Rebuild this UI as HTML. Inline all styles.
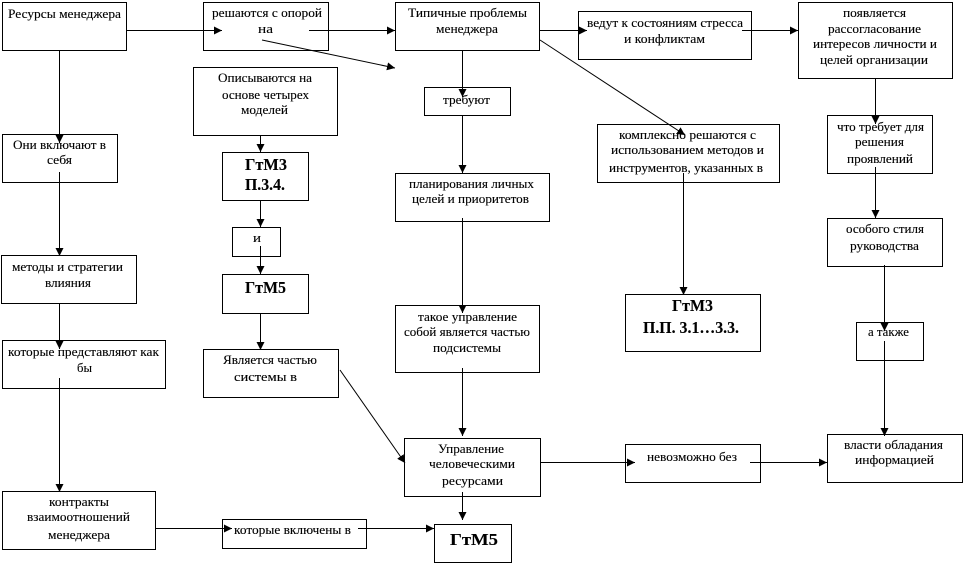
<!DOCTYPE html>
<html lang="ru"><head><meta charset="utf-8"><title>Diagram</title>
<style>
html,body{margin:0;padding:0;background:#fff;width:964px;height:564px;overflow:hidden}
svg{display:block}
text{font-family:"Liberation Serif","Noto Serif CJK SC",serif;font-size:13px;fill:#000;stroke:#000;stroke-width:.12}
text.b{font-weight:bold;font-size:17px}
rect{fill:#fff;stroke:#000;stroke-width:1}
line{stroke:#000;stroke-width:1;shape-rendering:crispEdges}
line.d{shape-rendering:auto}
polygon{fill:#000}
</style></head><body>
<svg width="964" height="564" viewBox="0 0 964 564" xmlns="http://www.w3.org/2000/svg">
<defs><marker id="a" markerUnits="userSpaceOnUse" markerWidth="9" markerHeight="8" refX="8" refY="4" orient="auto"><polygon points="0,0 8,4 0,8"/></marker></defs>
<g shape-rendering="crispEdges">
<rect x="2.5" y="2.5" width="124" height="48"/>
<rect x="203.5" y="2.5" width="125" height="48"/>
<rect x="395.5" y="2.5" width="144" height="48"/>
<rect x="578.5" y="11.5" width="173" height="48"/>
<rect x="798.5" y="2.5" width="154" height="76"/>
<rect x="827.5" y="115.5" width="105" height="58"/>
<rect x="827.5" y="218.5" width="115" height="48"/>
<rect x="856.5" y="322.5" width="67" height="38"/>
<rect x="827.5" y="434.5" width="135" height="48"/>
<rect x="193.5" y="67.5" width="144" height="68"/>
<rect x="222.5" y="152.5" width="86" height="48"/>
<rect x="232.5" y="227.5" width="48" height="29"/>
<rect x="222.5" y="274.5" width="86" height="39"/>
<rect x="203.5" y="349.5" width="135" height="48"/>
<rect x="2.5" y="134.5" width="115" height="48"/>
<rect x="1.5" y="255.5" width="135" height="48"/>
<rect x="2.5" y="340.5" width="163" height="48"/>
<rect x="2.5" y="491.5" width="153" height="58"/>
<rect x="222.5" y="519.5" width="144" height="29"/>
<rect x="434.5" y="524.5" width="77" height="38"/>
<rect x="404.5" y="438.5" width="136" height="58"/>
<rect x="395.5" y="305.5" width="144" height="67"/>
<rect x="395.5" y="173.5" width="154" height="48"/>
<rect x="424.5" y="87.5" width="86" height="28"/>
<rect x="597.5" y="124.5" width="182" height="58"/>
<rect x="625.5" y="294.5" width="135" height="57"/>
<rect x="625.5" y="444.5" width="135" height="38"/>
</g>
<text x="8" y="18" textLength="113" lengthAdjust="spacingAndGlyphs">Ресурсы менеджера</text>
<text x="212" y="17" textLength="110" lengthAdjust="spacingAndGlyphs">решаются с опорой</text>
<text x="258" y="33" textLength="15" lengthAdjust="spacingAndGlyphs">на</text>
<text x="408" y="17" textLength="119" lengthAdjust="spacingAndGlyphs">Типичные проблемы</text>
<text x="436" y="33" textLength="62" lengthAdjust="spacingAndGlyphs">менеджера</text>
<text x="587" y="27" textLength="156" lengthAdjust="spacingAndGlyphs">ведут к состояниям стресса</text>
<text x="624" y="43" textLength="81" lengthAdjust="spacingAndGlyphs">и конфликтам</text>
<text x="843" y="17" textLength="63" lengthAdjust="spacingAndGlyphs">появляется</text>
<text x="828" y="33" textLength="93" lengthAdjust="spacingAndGlyphs">рассогласование</text>
<text x="813" y="48" textLength="124" lengthAdjust="spacingAndGlyphs">интересов личности и</text>
<text x="820" y="64" textLength="108" lengthAdjust="spacingAndGlyphs">целей организации</text>
<text x="837" y="131" textLength="87" lengthAdjust="spacingAndGlyphs">что требует для</text>
<text x="855" y="146" textLength="49" lengthAdjust="spacingAndGlyphs">решения</text>
<text x="847" y="163" textLength="66" lengthAdjust="spacingAndGlyphs">проявлений</text>
<text x="846" y="233" textLength="78" lengthAdjust="spacingAndGlyphs">особого стиля</text>
<text x="850" y="250" textLength="69" lengthAdjust="spacingAndGlyphs">руководства</text>
<text x="868" y="336" textLength="41" lengthAdjust="spacingAndGlyphs">а также</text>
<text x="844" y="449" textLength="99" lengthAdjust="spacingAndGlyphs">власти обладания</text>
<text x="855" y="464" textLength="79" lengthAdjust="spacingAndGlyphs">информацией</text>
<text x="218" y="82" textLength="94" lengthAdjust="spacingAndGlyphs">Описываются на</text>
<text x="222" y="99" textLength="87" lengthAdjust="spacingAndGlyphs">основе четырех</text>
<text x="241" y="114" textLength="47" lengthAdjust="spacingAndGlyphs">моделей</text>
<text class="b" x="245" y="170" textLength="42" lengthAdjust="spacingAndGlyphs">ГтМ3</text>
<text class="b" x="245" y="190" textLength="40" lengthAdjust="spacingAndGlyphs">П.3.4.</text>
<text x="253" y="242" textLength="8" lengthAdjust="spacingAndGlyphs">и</text>
<text class="b" x="245" y="293" textLength="41" lengthAdjust="spacingAndGlyphs">ГтМ5</text>
<text x="223" y="364" textLength="94" lengthAdjust="spacingAndGlyphs">Является частью</text>
<text x="234" y="381" textLength="63" lengthAdjust="spacingAndGlyphs">системы в</text>
<text x="13" y="149" textLength="93" lengthAdjust="spacingAndGlyphs">Они включают в</text>
<text x="47" y="164" textLength="25" lengthAdjust="spacingAndGlyphs">себя</text>
<text x="12" y="271" textLength="111" lengthAdjust="spacingAndGlyphs">методы и стратегии</text>
<text x="45" y="287" textLength="46" lengthAdjust="spacingAndGlyphs">влияния</text>
<text x="8" y="356" textLength="151" lengthAdjust="spacingAndGlyphs">которые представляют как</text>
<text x="77" y="372" textLength="15" lengthAdjust="spacingAndGlyphs">бы</text>
<text x="49" y="506" textLength="60" lengthAdjust="spacingAndGlyphs">контракты</text>
<text x="27" y="521" textLength="103" lengthAdjust="spacingAndGlyphs">взаимоотношений</text>
<text x="48" y="539" textLength="62" lengthAdjust="spacingAndGlyphs">менеджера</text>
<text x="234" y="534" textLength="117" lengthAdjust="spacingAndGlyphs">которые включены в</text>
<text class="b" x="450" y="545" textLength="48" lengthAdjust="spacingAndGlyphs">ГтМ5</text>
<text x="438" y="453" textLength="66" lengthAdjust="spacingAndGlyphs">Управление</text>
<text x="429" y="468" textLength="86" lengthAdjust="spacingAndGlyphs">человеческими</text>
<text x="442" y="485" textLength="61" lengthAdjust="spacingAndGlyphs">ресурсами</text>
<text x="418" y="321" textLength="99" lengthAdjust="spacingAndGlyphs">такое управление</text>
<text x="404" y="336" textLength="126" lengthAdjust="spacingAndGlyphs">собой является частью</text>
<text x="433" y="352" textLength="68" lengthAdjust="spacingAndGlyphs">подсистемы</text>
<text x="409" y="188" textLength="125" lengthAdjust="spacingAndGlyphs">планирования личных</text>
<text x="412" y="203" textLength="117" lengthAdjust="spacingAndGlyphs">целей и приоритетов</text>
<text x="443" y="104" textLength="47" lengthAdjust="spacingAndGlyphs">требуют</text>
<text x="619" y="139" textLength="137" lengthAdjust="spacingAndGlyphs">комплексно решаются с</text>
<text x="611" y="154" textLength="153" lengthAdjust="spacingAndGlyphs">использованием методов и</text>
<text x="609" y="172" textLength="154" lengthAdjust="spacingAndGlyphs">инструментов, указанных в</text>
<text class="b" x="672" y="311" textLength="41" lengthAdjust="spacingAndGlyphs">ГтМ3</text>
<text class="b" x="643" y="333" textLength="96" lengthAdjust="spacingAndGlyphs">П.П. 3.1…3.3.</text>
<text x="647" y="461" textLength="90" lengthAdjust="spacingAndGlyphs">невозможно без</text>
<line x1="127" y1="30.5" x2="222" y2="30.5" marker-end="url(#a)"/>
<line x1="309" y1="30.5" x2="395" y2="30.5" marker-end="url(#a)"/>
<line class="d" x1="262" y1="40" x2="395" y2="68" marker-end="url(#a)"/>
<line x1="540" y1="30.5" x2="587" y2="30.5" marker-end="url(#a)"/>
<line class="d" x1="540" y1="40" x2="685" y2="135" marker-end="url(#a)"/>
<line x1="742" y1="30.5" x2="798" y2="30.5" marker-end="url(#a)"/>
<line x1="59.5" y1="50" x2="59.5" y2="143" marker-end="url(#a)"/>
<line x1="59.5" y1="172" x2="59.5" y2="256" marker-end="url(#a)"/>
<line x1="59.5" y1="303" x2="59.5" y2="349" marker-end="url(#a)"/>
<line x1="59.5" y1="378" x2="59.5" y2="492" marker-end="url(#a)"/>
<line x1="155" y1="528.5" x2="232" y2="528.5" marker-end="url(#a)"/>
<line x1="358" y1="528.5" x2="434" y2="528.5" marker-end="url(#a)"/>
<line x1="260.5" y1="135" x2="260.5" y2="152" marker-end="url(#a)"/>
<line x1="260.5" y1="200" x2="260.5" y2="227" marker-end="url(#a)"/>
<line x1="260.5" y1="246" x2="260.5" y2="274" marker-end="url(#a)"/>
<line x1="260.5" y1="313" x2="260.5" y2="350" marker-end="url(#a)"/>
<line class="d" x1="340" y1="370" x2="405" y2="463" marker-end="url(#a)"/>
<line x1="462.5" y1="50" x2="462.5" y2="97" marker-end="url(#a)"/>
<line x1="462.5" y1="115" x2="462.5" y2="173" marker-end="url(#a)"/>
<line x1="462.5" y1="218" x2="462.5" y2="313" marker-end="url(#a)"/>
<line x1="462.5" y1="368" x2="462.5" y2="436" marker-end="url(#a)"/>
<line x1="462.5" y1="492" x2="462.5" y2="520" marker-end="url(#a)"/>
<line x1="540" y1="462.5" x2="635" y2="462.5" marker-end="url(#a)"/>
<line x1="750" y1="462.5" x2="827" y2="462.5" marker-end="url(#a)"/>
<line x1="683.5" y1="173" x2="683.5" y2="295" marker-end="url(#a)"/>
<line x1="875.5" y1="78" x2="875.5" y2="124" marker-end="url(#a)"/>
<line x1="875.5" y1="167" x2="875.5" y2="218" marker-end="url(#a)"/>
<line x1="884.5" y1="265" x2="884.5" y2="331" marker-end="url(#a)"/>
<line x1="884.5" y1="341" x2="884.5" y2="436" marker-end="url(#a)"/>
</svg>
</body></html>
